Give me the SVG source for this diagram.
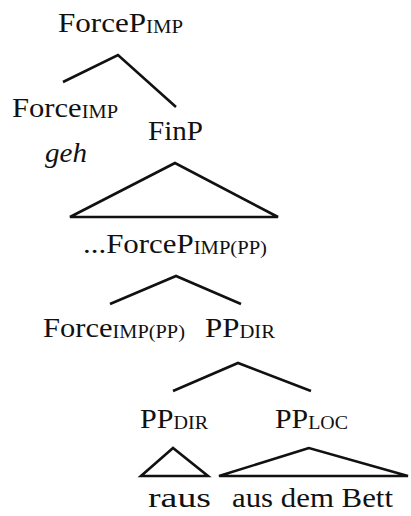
<svg xmlns="http://www.w3.org/2000/svg" width="411" height="516" viewBox="0 0 411 516">
<style>
text{font-family:"Liberation Serif","Times New Roman",serif;font-size:27px;fill:#111}
.s{font-size:18px}
.i{font-style:italic}
.e{fill:none;stroke:#111;stroke-width:2.6;stroke-linejoin:miter}
</style>
<rect width="411" height="516" fill="#fff"/>
<g id="connectors">
<polyline class="e" points="63,82 118,55 176,107"/>
<polygon class="e" points="175,163 70,217 278,217"/>
<polyline class="e" points="110,304 176,276 241,304"/>
<polyline class="e" points="173,391 238,363 311,391"/>
<polygon class="e" points="173,448 141,476 208,476"/>
<polygon class="e" points="309,448 219,476 408,476"/>
</g>
<g id="n-forcep-imp"><text x="58" y="32" textLength="125" lengthAdjust="spacingAndGlyphs">ForceP<tspan class="s" dy="1">IMP</tspan></text></g>
<g id="n-force-imp"><text x="12" y="117" textLength="106" lengthAdjust="spacingAndGlyphs">Force<tspan class="s" dy="1">IMP</tspan></text></g>
<g id="n-geh"><text class="i" x="45" y="162" textLength="42" lengthAdjust="spacingAndGlyphs">geh</text></g>
<g id="n-finp"><text x="148" y="140" textLength="55" lengthAdjust="spacingAndGlyphs">FinP</text></g>
<g id="n-forcep-imppp"><text x="83" y="253" textLength="184" lengthAdjust="spacingAndGlyphs">...ForceP<tspan class="s" dy="1">IMP(PP)</tspan></text></g>
<g id="n-force-imppp"><text x="43" y="337" textLength="142" lengthAdjust="spacingAndGlyphs">Force<tspan class="s" dy="1">IMP(PP)</tspan></text></g>
<g id="n-ppdir1"><text x="205" y="337" textLength="70" lengthAdjust="spacingAndGlyphs">PP<tspan class="s" dy="1">DIR</tspan></text></g>
<g id="n-ppdir2"><text x="140" y="428" textLength="68" lengthAdjust="spacingAndGlyphs">PP<tspan class="s" dy="1">DIR</tspan></text></g>
<g id="n-pploc"><text x="275" y="428" textLength="73" lengthAdjust="spacingAndGlyphs">PP<tspan class="s" dy="1">LOC</tspan></text></g>
<g id="n-raus"><text x="148" y="507" textLength="63" lengthAdjust="spacingAndGlyphs">raus</text></g>
<g id="n-bett"><text x="232" y="507" textLength="161" lengthAdjust="spacingAndGlyphs">aus dem Bett</text></g>
</svg>
